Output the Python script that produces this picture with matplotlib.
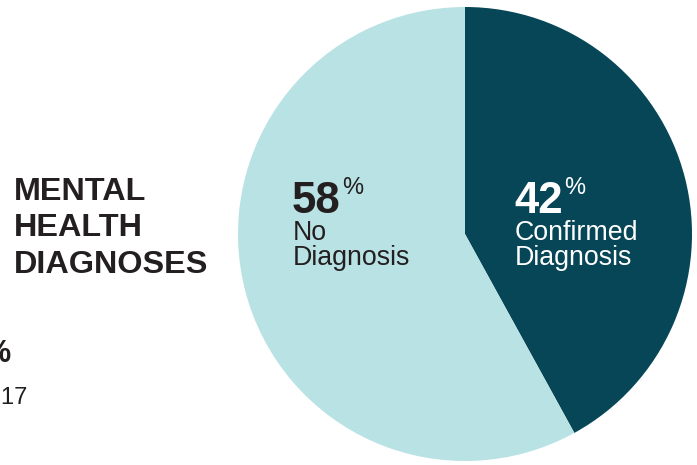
import matplotlib.pyplot as plt

# данные
labels = ['Confirmed\nDiagnosis', 'No\nDiagnosis']
shares = [42, 58]
colors = ['#064657', '#B9E2E4']
title_lines = ['MENTAL', 'HEALTH', 'DIAGNOSES']

W, H = 697, 465
TXT = '#231F20'


def py(y):
    # пиксели сверху -> координаты данных
    return H - y


fig = plt.figure(figsize=(W / 100, H / 100), dpi=100)
ax = fig.add_axes([0, 0, 1, 1])

ax.pie(shares, colors=colors, startangle=90, counterclock=False,
       center=(465, py(234)), radius=227,
       wedgeprops=dict(linewidth=0))
ax.set_xlim(0, W)
ax.set_ylim(0, H)
ax.set_aspect('equal')
ax.axis('off')

font = 'Liberation Sans'

# заголовок слева
for i, line in enumerate(title_lines):
    ax.text(14, py(200 + i * 36.5), line, fontsize=23.3, fontweight='bold',
            family=font, color=TXT, va='baseline', ha='left')

# обрезанные подписи у левого края (в оригинале тоже обрезаны)
ax.text(10, py(362), '%', fontsize=22, fontweight='bold', family=font,
        color=TXT, va='baseline', ha='right')
ax.text(28, py(404), '12-17', fontsize=17, family=font,
        color=TXT, va='baseline', ha='right')

# подписи секторов
slices = [
    (shares[1], labels[1], 292, TXT),
    (shares[0], labels[0], 514, 'white'),
]
for val, lab, x, c in slices:
    ax.text(x, py(213), str(val), fontsize=31.5, fontweight='bold',
            family=font, color=c, va='baseline', ha='left')
    ax.text(x + 50, py(177), '%', fontsize=17, family=font, color=c,
            va='top', ha='left')
    for j, part in enumerate(lab.split('\n')):
        ax.text(x + 1, py(240 + j * 25), part, fontsize=19.3, family=font,
                color=c, va='baseline', ha='left')

fig.savefig('out.png', dpi=100)
